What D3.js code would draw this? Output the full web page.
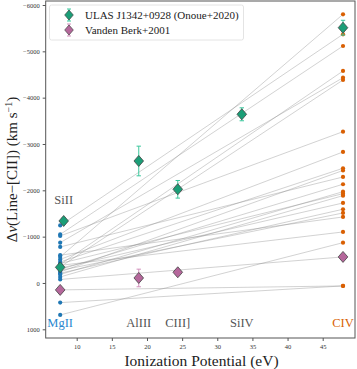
<!DOCTYPE html>
<html>
<head>
<meta charset="utf-8">
<script src="https://cdn.jsdelivr.net/npm/d3@7"></script>
<style>
  body { margin: 0; background: #fff; }
  text { font-family: "Liberation Serif", "DejaVu Serif", serif; }
</style>
</head>
<body>
<svg></svg>
<script>
var width = 357,
    height = 369;

// line ionization potentials (eV)
var lineNames = ["MgII", "SiII", "AlIII", "CIII]", "SiIV", "CIV"];
var lineIP = [7.65, 8.15, 18.83, 24.38, 33.49, 47.89];

// sample quasars: MgII and CIV velocity shifts (km/s)
var mgiiShift = [-562, -1242, -1048, -400, -870, -346, -1015, -508, -454, -238, -778, -292,
                 -184, -420, -130, -320, -210, -270, -600, -380, 690, -76, 150, 424];
var civShift = [-5799, -5368, -5115, -4576, -4431, -4381, -3266, -2828, -2476, -2428, -2288, -2131,
                -1971, -1928, -1885, -1727, -1591, -1511, -1425, -1101, -870, -562, 64, 64];

// ULAS J1342+0928 (Onoue+2020)
var ulasIP = [7.65, 8.15, 18.83, 24.38, 33.49, 47.89];
var ulasShift = [-338, -1338, -2633, -2022, -3641, -5510];
var ulasErr = [60, 60, 320, 190, 140, 160];

// Vanden Berk+2001
var vbIP = [7.65, 18.83, 24.38, 47.89];
var vbShift = [150, -108, -231, -562];
var vbErr = [0, 190, 0, 0];

var yTicks = [-6000, -5000, -4000, -3000, -2000, -1000, 0, 1000];
var xTicks = [10, 15, 20, 25, 30, 35, 40, 45];

var svg = d3.select("svg")
    .attr("width", width)
    .attr("height", height);

var x = d3.scaleLinear().domain([10, 45]).range([76.7, 322.7]);
var y = d3.scaleLinear().domain([-6000, 1000]).range([5, 329.3]);

var pLeft = 45.7, pRight = 355, pTop = 1, pBottom = 338;

var blue = "#1f77b4", orange = "#d95f02", green = "#1b9e77", pink = "#b5679b";

var g = svg.append("g");

// connecting lines
g.selectAll("line.pair")
    .data(mgiiShift)
  .enter().append("line")
    .attr("class", "pair")
    .attr("x1", x(lineIP[0]))
    .attr("y1", function(d) { return y(d); })
    .attr("x2", x(lineIP[5]))
    .attr("y2", function(d, i) { return y(civShift[i]); })
    .attr("stroke", "#888")
    .attr("stroke-opacity", 0.55)
    .attr("stroke-width", 0.7);

g.selectAll("circle.mg")
    .data(mgiiShift)
  .enter().append("circle")
    .attr("cx", x(lineIP[0]))
    .attr("cy", function(d) { return y(d); })
    .attr("r", 2.1)
    .attr("fill", blue);

g.selectAll("circle.civ")
    .data(civShift)
  .enter().append("circle")
    .attr("cx", x(lineIP[5]))
    .attr("cy", function(d) { return y(d); })
    .attr("r", 2.1)
    .attr("fill", orange);

//diamonds with error bars
function diamonds(ips, vals, errs, fill, ecol) {
  var grp = g.append("g");
  ips.forEach(function(ip, i) {
    var cx = x(ip), cy = y(vals[i]);
    if (errs[i] > 0) {
      var y0 = y(vals[i] - errs[i]), y1 = y(vals[i] + errs[i]);
      grp.append("line").attr("x1", cx).attr("x2", cx).attr("y1", y0).attr("y2", y1)
        .attr("stroke", ecol).attr("stroke-width", 1);
      [y0, y1].forEach(function(yy) {
        grp.append("line").attr("x1", cx - 2.2).attr("x2", cx + 2.2).attr("y1", yy).attr("y2", yy)
          .attr("stroke", ecol).attr("stroke-width", 1);
      });
    }
    grp.append("path")
      .attr("d", "M" + cx + "," + (cy - 5.5) + "L" + (cx + 4.8) + "," + cy +
                 "L" + cx + "," + (cy + 5.5) + "L" + (cx - 4.8) + "," + cy + "Z")
      .attr("fill", fill)
      .attr("stroke", "#444")
      .attr("stroke-width", 0.8);
  });
}
diamonds(vbIP, vbShift, vbErr, pink, "#d291bd");
diamonds(ulasIP, ulasShift, ulasErr, green, "#3cc79d");

// line name labels
var labelY = [850, -1800, 850, 850, 850, 850];
var labelCol = ["#2a87cf", "#555", "#555", "#555", "#555", orange];
g.selectAll("text.lname")
    .data(lineNames)
  .enter().append("text")
    .attr("x", function(d, i) { return x(lineIP[i]); })
    .attr("y", function(d, i) { return y(labelY[i]); })
    .attr("dy", "0.35em")
    .attr("text-anchor", "middle")
    .attr("font-size", 12.5)
    .attr("fill", function(d, i) { return labelCol[i]; })
    .text(function(d) { return d; });

// frame
svg.append("rect")
    .attr("x", pLeft).attr("y", pTop)
    .attr("width", pRight - pLeft).attr("height", pBottom - pTop)
    .attr("fill", "none")
    .attr("stroke", "#555")
    .attr("stroke-width", 1);

// axes
var yAxis = d3.axisLeft(y).tickValues(yTicks).tickSize(3)
    .tickFormat(function(d) { return d < 0 ? "\u2212" + (-d) : d; });
var ya = svg.append("g").attr("transform", "translate(" + pLeft + ",0)").call(yAxis);
ya.select(".domain").remove();
ya.selectAll("text").attr("font-size", 6.5).style("fill", "#333")
  .style("font-family", "'Liberation Serif', serif");
ya.selectAll("line").attr("stroke", "#555");

var xAxis = d3.axisBottom(x).tickValues(xTicks).tickSize(3);
var xa = svg.append("g").attr("transform", "translate(0," + pBottom + ")").call(xAxis);
xa.select(".domain").remove();
xa.selectAll("text").attr("font-size", 6.5).style("fill", "#333")
  .style("font-family", "'Liberation Serif', serif");
xa.selectAll("line").attr("stroke", "#555");

svg.append("text")
    .attr("x", 201.5)
    .attr("y", 366)
    .attr("text-anchor", "middle")
    .attr("font-size", 15.5)
    .attr("fill", "#222")
    .text("Ionization Potential (eV)");

var yl = svg.append("text")
    .attr("transform", "translate(17," + ((pTop + pBottom) / 2) + ") rotate(-90)")
    .attr("text-anchor", "middle")
    .attr("font-size", 15)
    .attr("fill", "#222");
yl.append("tspan").text("\u0394");
yl.append("tspan").attr("font-style", "italic").text("v");
yl.append("tspan").text("(Line\u2212[CII]) (km s");
yl.append("tspan").attr("font-size", 10).attr("dy", -5).text("\u22121");
yl.append("tspan").attr("dy", 5).text(")");

// legend
var leg = svg.append("g");
leg.append("rect")
    .attr("x", 49.5).attr("y", 5).attr("width", 194).attr("height", 35)
    .attr("rx", 2)
    .attr("fill", "#fff").attr("fill-opacity", 0.85)
    .attr("stroke", "#ddd").attr("stroke-width", 0.8);
var legItems = [
  {label: "ULAS J1342+0928 (Onoue+2020)", fill: green, ecol: "#3cc79d"},
  {label: "Vanden Berk+2001", fill: pink, ecol: "#d291bd"}
];
legItems.forEach(function(it, i) {
  var cx = 69, cy = 15 + i * 15;
  leg.append("line").attr("x1", cx).attr("x2", cx).attr("y1", cy - 6).attr("y2", cy + 6)
    .attr("stroke", it.ecol);
  [cy - 6, cy + 6].forEach(function(yy) {
    leg.append("line").attr("x1", cx - 2).attr("x2", cx + 2).attr("y1", yy).attr("y2", yy)
      .attr("stroke", it.ecol);
  });
  leg.append("path")
    .attr("d", "M" + cx + "," + (cy - 5) + "L" + (cx + 4.3) + "," + cy +
               "L" + cx + "," + (cy + 5) + "L" + (cx - 4.3) + "," + cy + "Z")
    .attr("fill", it.fill).attr("stroke", "#444").attr("stroke-width", 0.7);
  leg.append("text")
    .attr("x", 85).attr("y", cy).attr("dy", "0.35em")
    .attr("font-size", 11).attr("fill", "#222")
    .text(it.label);
});
</script>
</body>
</html>
